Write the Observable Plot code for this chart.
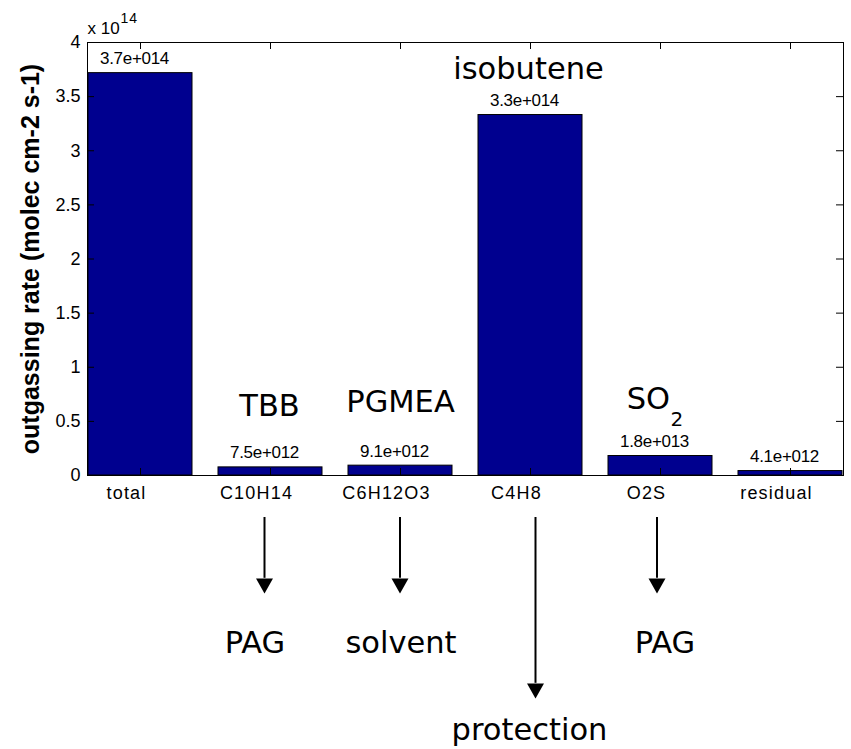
<!DOCTYPE html>
<html><head><meta charset="utf-8">
<script src="https://cdn.jsdelivr.net/npm/d3@7"></script>
<script src="https://cdn.jsdelivr.net/npm/@observablehq/plot@0.6"></script>
<style>html,body{margin:0;padding:0;background:#fff;} #chart svg{display:block;}</style>
</head><body><div id="chart"></div>
<script>
// ---- data ----
const categories = ["total", "C10H14", "C6H12O3", "C4H8", "O2S", "residual"];
const rates = [3.717e14, 7.5e12, 9.1e12, 3.33e14, 1.8e13, 4.1e12];
const scaleExp = 14;
const yTicks = [0, 0.5, 1, 1.5, 2, 2.5, 3, 3.5, 4];
const yTickLabels = ["0", "0.5", "1", "1.5", "2", "2.5", "3", "3.5", "4"];
const yLabel = "outgassing rate (molec cm-2 s-1)";
const annotCats = ["C10H14", "C6H12O3", "C4H8", "O2S"];
const annotNames = ["TBB", "PGMEA", "isobutene", "SO"];
const annotSub = "2";
const annotRoles = ["PAG", "solvent", "protection", "PAG"];

// ---- helpers ----
function matlabFmt(v) {
  const [m, e] = v.toExponential(1).split("e");
  const sign = e[0] === "-" ? "-" : "+";
  return m + "e" + sign + String(Math.abs(+e)).padStart(3, "0");
}
const rows = categories.map((c, i) => ({cat: c, v: rates[i] / 10 ** scaleExp, label: matlabFmt(rates[i])}));

const W = 851, H = 749, mL = 87, mR = 8, mT = 42, mB = 274;
const fw = W - mL - mR, fh = H - mT - mB;
const annFont = "'DejaVu Sans', Verdana, sans-serif";
const annSize = 30.5;

const downTri = {draw(ctx, size) {
  const r = Math.sqrt(size / Math.PI), k = r / 8;
  ctx.moveTo(-8.5 * k, -5 * k); ctx.lineTo(8.5 * k, -5 * k); ctx.lineTo(0, 10 * k); ctx.closePath();
}};

// annotation layout (y in axis units, dx in px)
const nameLayout = [{y: 0.554, dx: -1}, {y: 0.582, dx: 0}, {y: 3.667, dx: -2}, {y: 0.61, dx: 9.5}];
const roleLayout = [{y: -1.644, dx: -15.5}, {y: -1.644, dx: 0.5}, {y: -2.448, dx: -1}, {y: -1.644, dx: 4.5}];
const arrowLayout = [{y1: -0.388, y2: -0.95, yh: -0.998, dx: -6}, {y1: -0.388, y2: -0.95, yh: -0.998, dx: -0.5},
                     {y1: -0.388, y2: -1.92, yh: -1.968, dx: 5}, {y1: -0.388, y2: -0.95, yh: -0.998, dx: -3.5}];

const annMarks = [];
annotCats.forEach((c, i) => {
  const nl = nameLayout[i], rl = roleLayout[i], al = arrowLayout[i];
  const isSO = annotNames[i] === "SO";
  annMarks.push(Plot.text([annotNames[i]], {x: () => c, y: () => nl.y, text: d => d, dx: nl.dx,
    textAnchor: isSO ? "end" : "middle", lineAnchor: "bottom", fontSize: annSize, fontFamily: annFont, fill: "black"}));
  if (isSO) annMarks.push(Plot.text([annotSub], {x: () => c, y: () => nl.y, text: d => d, dx: nl.dx + 0.5, dy: 17,
    textAnchor: "start", lineAnchor: "bottom", fontSize: 20, fontFamily: annFont, fill: "black"}));
  annMarks.push(Plot.text([annotRoles[i]], {x: () => c, y: () => rl.y, text: d => d, dx: rl.dx,
    lineAnchor: "bottom", fontSize: annSize, fontFamily: annFont, fill: "black"}));
  annMarks.push(Plot.ruleX([c], {x: d => d, y1: al.y1, y2: al.y2, dx: al.dx, stroke: "black", strokeWidth: 2}));
  annMarks.push(Plot.dot([c], {x: d => d, y: al.yh, dx: al.dx, r: 8, symbol: downTri, fill: "black", stroke: "none"}));
});

const chart = Plot.plot({
  width: W, height: H,
  marginLeft: mL, marginRight: mR, marginTop: mT, marginBottom: mB,
  style: {fontFamily: "'Liberation Sans', Arial, Helvetica, sans-serif", background: "white", color: "black"},
  x: {type: "band", domain: categories, paddingInner: 0.2, paddingOuter: 0, axis: null},
  y: {domain: [0, 4], axis: null},
  marks: [
    Plot.barY(rows, {x: "cat", y: "v", fill: "#00008F", stroke: "black", strokeWidth: 1}),
    Plot.frame({stroke: "black"}),
    Plot.tickX(categories, {x: d => d, insetTop: fh - 7, stroke: "black"}),
    Plot.tickX(categories, {x: d => d, insetBottom: fh - 7, stroke: "black"}),
    Plot.tickY(yTicks, {y: d => d, insetRight: fw - 7, stroke: "black"}),
    Plot.tickY(yTicks, {y: d => d, insetLeft: fw - 7, stroke: "black"}),
    Plot.text(yTicks, {y: d => d, text: (d, i) => yTickLabels[i], frameAnchor: "left", textAnchor: "end", dx: -7, fontSize: 18, fill: "black"}),
    Plot.text(categories, {x: d => d, text: d => d, frameAnchor: "bottom", lineAnchor: "bottom", dy: 23, dx: -14, fontSize: 18, fill: "black"}),
    Plot.text(rows, {x: "cat", y: "v", text: "label", lineAnchor: "bottom", dy: -9, dx: -6, fontSize: 17, fill: "black"}),
    Plot.text(["x 10"], {text: d => d, frameAnchor: "top-left", textAnchor: "start", lineAnchor: "bottom", dy: -9, fontSize: 17, fill: "black"}),
    Plot.text([String(scaleExp)], {text: d => d, frameAnchor: "top-left", textAnchor: "start", lineAnchor: "bottom", dx: 33, dy: -20, fontSize: 14, fill: "black"}),
    Plot.text([yLabel], {text: d => d, frameAnchor: "left", textAnchor: "middle", rotate: -90, dx: -49, lineAnchor: "bottom", fontSize: 25, fontWeight: "bold", fill: "black"}),
    ...annMarks
  ]
});
document.getElementById("chart").appendChild(chart);
const allText = d3.select(chart).selectAll("text");
allText.filter(function() { return categories.includes(this.textContent); }).style("letter-spacing", "1.2px");
allText.filter(function() { return /e[+-]0/.test(this.textContent); }).style("letter-spacing", "-0.3px");
allText.filter(function() { return this.textContent === String(scaleExp); }).style("letter-spacing", "1px");
</script>
</body></html>
